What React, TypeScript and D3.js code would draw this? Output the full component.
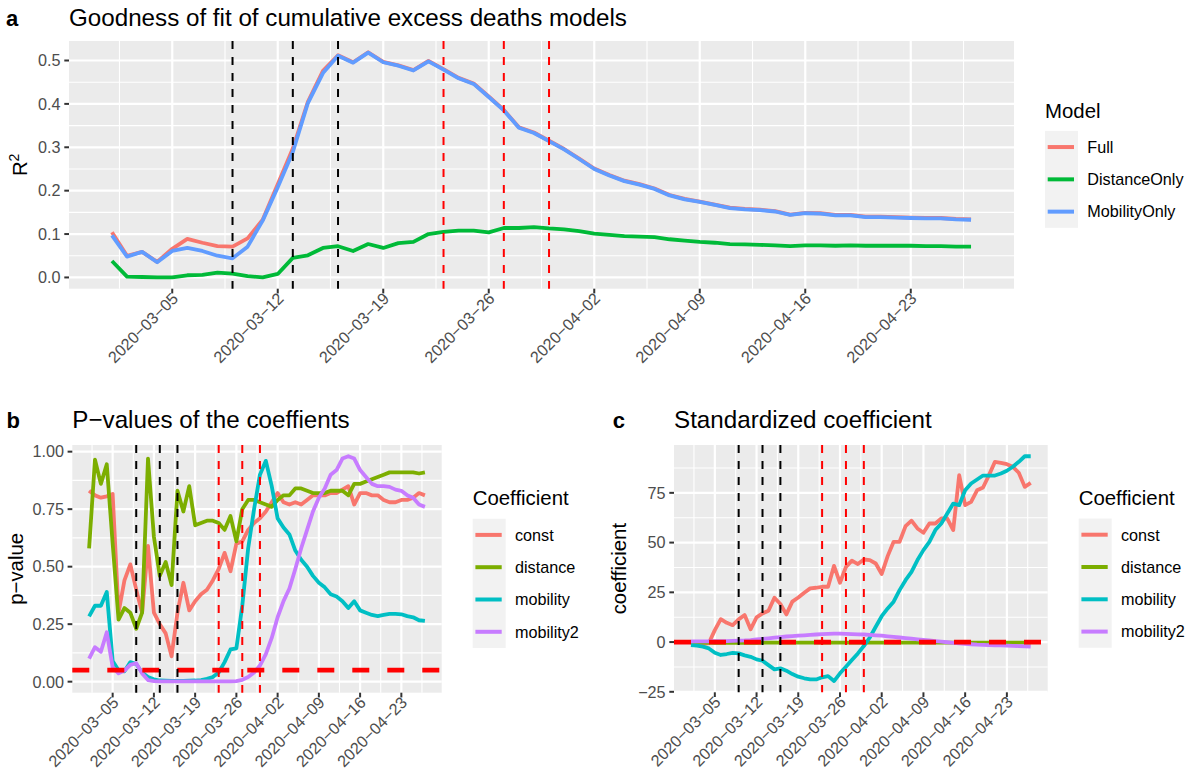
import * as d3 from "d3";
import type { ReactNode } from "react";

const FONT = "'Liberation Sans', Arial, Helvetica, sans-serif";
const MINUS = "\u2212";

// dates
const firstDay = "2020-03-01";
const lastDay = "2020-04-27";
const weekTicks = [
  "2020-03-05", "2020-03-12", "2020-03-19", "2020-03-26",
  "2020-04-02", "2020-04-09", "2020-04-16", "2020-04-23",
];
const blackLines = ["2020-03-09", "2020-03-13", "2020-03-16"];
const redLines = ["2020-03-23", "2020-03-27", "2020-03-30"];

// panel a: R^2 of the models
const r2Full = [
  0.104, 0.05, 0.059, 0.036, 0.066, 0.089, 0.08, 0.072, 0.071, 0.09,
  0.133, 0.215, 0.297, 0.405, 0.476, 0.512, 0.496, 0.519, 0.497, 0.489,
  0.478, 0.499, 0.48, 0.46, 0.447, 0.417, 0.386, 0.346, 0.334, 0.315,
  0.296, 0.274, 0.251, 0.236, 0.223, 0.215, 0.205, 0.19, 0.181, 0.175,
  0.168, 0.161, 0.158, 0.156, 0.153, 0.145, 0.149, 0.148, 0.144, 0.144,
  0.14, 0.14, 0.139, 0.138, 0.137, 0.137, 0.135, 0.134,
];
const r2Distance = [
  0.038, 0.002, 0.001, 0.0, 0.0, 0.005, 0.006, 0.011, 0.009, 0.003,
  0.0, 0.008, 0.045, 0.051, 0.068, 0.072, 0.061, 0.077, 0.068, 0.079,
  0.082, 0.1, 0.105, 0.108, 0.108, 0.104, 0.114, 0.114, 0.116, 0.113,
  0.111, 0.107, 0.101, 0.098, 0.095, 0.094, 0.093, 0.088, 0.085, 0.082,
  0.08, 0.077, 0.076, 0.075, 0.074, 0.072, 0.074, 0.074, 0.073, 0.074,
  0.073, 0.073, 0.073, 0.073, 0.072, 0.072, 0.071, 0.071,
];
const r2Mobility = [
  0.097, 0.048, 0.059, 0.035, 0.061, 0.068, 0.061, 0.05, 0.044, 0.071,
  0.131, 0.208, 0.289, 0.402, 0.471, 0.511, 0.495, 0.518, 0.496, 0.488,
  0.477, 0.498, 0.479, 0.459, 0.446, 0.416, 0.385, 0.345, 0.333, 0.314,
  0.295, 0.273, 0.25, 0.235, 0.222, 0.214, 0.204, 0.189, 0.18, 0.174,
  0.167, 0.16, 0.157, 0.155, 0.152, 0.144, 0.148, 0.147, 0.143, 0.143,
  0.139, 0.139, 0.138, 0.137, 0.136, 0.136, 0.134, 0.133,
];

// panel b: p-values
const pConst = [
  0.83, 0.81, 0.8, 0.806, 0.816, 0.3, 0.44, 0.51, 0.4, 0.3,
  0.59, 0.3, 0.25, 0.21, 0.11, 0.3, 0.43, 0.31, 0.35, 0.38,
  0.4, 0.44, 0.49, 0.56, 0.48, 0.6, 0.61, 0.66, 0.69, 0.71,
  0.74, 0.78, 0.82, 0.78, 0.77, 0.78, 0.77, 0.79, 0.81, 0.81,
  0.81, 0.82, 0.82, 0.835, 0.85, 0.77, 0.82, 0.82, 0.81, 0.81,
  0.79, 0.78, 0.78, 0.79, 0.79, 0.8, 0.82, 0.81,
];
const pDistance = [
  0.58, 0.965, 0.86, 0.945, 0.6, 0.27, 0.32, 0.3, 0.23, 0.3,
  0.97, 0.63, 0.46, 0.52, 0.42, 0.83, 0.74, 0.85, 0.68, 0.69,
  0.7, 0.7, 0.69, 0.66, 0.72, 0.61, 0.75, 0.79, 0.79, 0.78,
  0.77, 0.76, 0.79, 0.81, 0.81, 0.84, 0.84, 0.83, 0.82, 0.82,
  0.82, 0.83, 0.83, 0.83, 0.81, 0.86, 0.86, 0.87, 0.88, 0.89,
  0.9, 0.91, 0.91, 0.91, 0.91, 0.91, 0.905, 0.91,
];
const pMobility = [
  0.284, 0.33, 0.33, 0.39, 0.09, 0.05, 0.045, 0.085, 0.077, 0.04,
  0.02, 0.01, 0.005, 0.004, 0.003, 0.003, 0.003, 0.004, 0.005, 0.007,
  0.012, 0.02, 0.04, 0.085, 0.14, 0.145, 0.33, 0.58, 0.75, 0.9,
  0.96, 0.85, 0.71, 0.67, 0.64, 0.57, 0.53, 0.5, 0.46, 0.43,
  0.41, 0.38, 0.37, 0.35, 0.32, 0.35, 0.31, 0.3, 0.29, 0.285,
  0.29, 0.295, 0.295, 0.293, 0.285, 0.28, 0.267, 0.264,
];
const pMobility2 = [
  0.1, 0.15, 0.13, 0.215, 0.063, 0.036, 0.048, 0.073, 0.08, 0.036,
  0.007, 0.002, 0.001, 0.001, 0.001, 0.001, 0.001, 0.001, 0.001, 0.001,
  0.001, 0.001, 0.001, 0.001, 0.001, 0.002, 0.008, 0.02, 0.04, 0.07,
  0.12, 0.19, 0.28, 0.35, 0.405, 0.49, 0.58, 0.66, 0.74, 0.8,
  0.84, 0.9, 0.92, 0.97, 0.98, 0.97, 0.92, 0.89, 0.86, 0.85,
  0.85, 0.847, 0.835, 0.83, 0.81, 0.8, 0.77, 0.76,
];

// panel c: standardized coefficients
const cConst = [
  -0.5, -0.8, -1.0, -0.5, 6.0, 11.5, 9.7, 8.5, 11.4, 13.6,
  6.4, 12.4, 14.4, 15.7, 22.3, 19.1, 13.9, 20.3, 22.4, 24.8,
  27.0, 27.3, 27.8, 27.8, 38.3, 29.8, 37.8, 40.9, 39.2, 41.5,
  41.2, 39.5, 34.2, 43.2, 50.4, 50.4, 58.3, 61.0, 57.1, 54.9,
  59.6, 59.6, 62.1, 62.1, 56.3, 83.9, 68.8, 70.5, 76.3, 77.7,
  83.9, 90.6, 90.1, 89.4, 88.1, 85.1, 78.0, 80.0,
];
const cDistance = [
  -0.3, -0.3, -0.3, -0.3, -0.4, -0.4, -0.4, -0.4, -0.4, -0.4,
  -0.4, -0.4, -0.3, -0.3, -0.3, -0.3, -0.3, -0.3, -0.3, -0.3,
  -0.3, -0.3, -0.3, -0.3, -0.3, -0.3, -0.3, -0.3, -0.3, -0.3,
  -0.3, -0.3, -0.3, -0.3, -0.3, -0.3, -0.3, -0.3, -0.3, -0.3,
  -0.3, -0.3, -0.3, -0.3, -0.3, -0.3, -0.3, -0.3, -0.3, -0.3,
  -0.3, -0.3, -0.3, -0.3, -0.3, -0.3, -0.3, -0.3,
];
const cMobility = [
  -1.5, -1.8, -2.3, -3.2, -5.4, -6.5, -6.0, -5.4, -5.7, -6.7,
  -7.4, -8.7, -9.4, -11.6, -13.7, -13.2, -14.4, -16.1, -17.4, -18.2,
  -18.8, -18.8, -17.7, -17.1, -19.6, -15.7, -12.4, -9.0, -5.7, -2.0,
  2.3, 7.7, 13.0, 16.9, 20.3, 26.1, 31.1, 35.3, 41.2, 46.2,
  50.4, 56.3, 59.6, 64.6, 69.6, 68.8, 76.3, 79.7, 81.7, 83.7,
  83.7, 83.7, 84.7, 86.1, 88.1, 90.6, 93.4, 93.4,
];
const cMobility2 = [
  0.3, 0.3, 0.3, 0.3, 0.4, 0.4, 0.5, 0.6, 0.7, 0.8,
  1.0, 1.3, 1.6, 1.9, 2.2, 2.5, 2.8, 3.0, 3.2, 3.4,
  3.6, 3.8, 4.0, 4.1, 4.2, 4.2, 4.1, 4.0, 3.9, 3.8,
  3.6, 3.4, 3.2, 2.9, 2.6, 2.3, 2.0, 1.7, 1.4, 1.1,
  0.8, 0.5, 0.2, -0.1, -0.4, -0.7, -0.9, -1.1, -1.3, -1.4,
  -1.5, -1.6, -1.7, -1.8, -1.9, -2.0, -2.1, -2.3,
];

const pThreshold = 0.05;
const zeroLevel = 0;

const modelNames = ["Full", "DistanceOnly", "MobilityOnly"];
const coefNames = ["const", "distance", "mobility", "mobility2"];
const hue3 = ["#F8766D", "#00BA38", "#619CFF"];
const hue4 = ["#F8766D", "#7CAE00", "#00BFC4", "#C77CFF"];

const parse = d3.utcParse("%Y-%m-%d");
const days = d3.utcDay.range(parse(firstDay)!, d3.utcDay.offset(parse(lastDay)!, 1));

interface Series {
  name: string;
  values: number[];
  color: string;
}

interface PanelProps {
  x0: number;
  x1: number;
  y0: number;
  y1: number;
  series: Series[];
  yTicks: number[];
  yFmt: (v: number) => string;
  hline?: number;
  title: string;
  tag: string;
  tagX: number;
  titleY: number;
  ylab: ReactNode;
  ylabX: number;
  legendTitle: string;
}

const tickSize = 16.2;
const KEY_H = 32.3;

function Panel(p: PanelProps) {
  const { x0, x1, y0, y1 } = p;
  const [t0, t1] = d3.extent(days) as [Date, Date];
  const span = +t1 - +t0;
  const x = d3
    .scaleUtc()
    .domain([+t0 - span * 0.05, +t1 + span * 0.05])
    .range([x0, x1]);

  const all = p.series.flatMap((s) => s.values);
  if (p.hline != null) all.push(p.hline);
  const [lo, hi] = d3.extent(all) as [number, number];
  const pad = (hi - lo) * 0.05;
  const y = d3.scaleLinear().domain([lo - pad, hi + pad]).range([y1, y0]);

  const majors = weekTicks.map((d) => parse(d)!);
  const half = 3.5 * 864e5;
  const [dx0, dx1] = x.domain().map(Number);
  const xMinor = [...majors.map((m) => +m - half), +majors[majors.length - 1] + half].filter(
    (v) => v >= dx0 && v <= dx1
  );
  const step = p.yTicks[1] - p.yTicks[0];
  const [dy0, dy1] = y.domain();
  const yMinor = [...p.yTicks.map((t) => t - step / 2), p.yTicks[p.yTicks.length - 1] + step / 2].filter(
    (v) => v >= dy0 && v <= dy1
  );

  const line = d3
    .line<number>()
    .x((_, i) => x(days[i]))
    .y((v) => y(v));

  const lx = x1 + 31;
  const boxH = p.series.length * KEY_H;
  const boxTop = (y0 + y1) / 2 - boxH / 2 + 14.5;

  return (
    <g>
      <text x={p.tagX} y={p.titleY} fontSize={22} fontWeight="bold">
        {p.tag}
      </text>
      <text x={x0} y={p.titleY} fontSize={24.2}>
        {p.title}
      </text>
      <rect x={x0} y={y0} width={x1 - x0} height={y1 - y0} fill="#EBEBEB" />
      {xMinor.map((v) => (
        <line key={`xm${v}`} x1={x(v)} x2={x(v)} y1={y0} y2={y1} stroke="#fff" strokeWidth={1.1} />
      ))}
      {yMinor.map((v) => (
        <line key={`ym${v}`} x1={x0} x2={x1} y1={y(v)} y2={y(v)} stroke="#fff" strokeWidth={1.1} />
      ))}
      {majors.map((m) => (
        <line key={`xg${+m}`} x1={x(m)} x2={x(m)} y1={y0} y2={y1} stroke="#fff" strokeWidth={2.2} />
      ))}
      {p.yTicks.map((v) => (
        <line key={`yg${v}`} x1={x0} x2={x1} y1={y(v)} y2={y(v)} stroke="#fff" strokeWidth={2.2} />
      ))}

      {p.series.map((s) => (
        <path
          key={s.name}
          d={line(s.values) ?? ""}
          fill="none"
          stroke={s.color}
          strokeWidth={3.8}
          strokeLinejoin="round"
        />
      ))}

      {p.hline != null && (
        <line
          x1={x0}
          x2={x1}
          y1={y(p.hline)}
          y2={y(p.hline)}
          stroke="#FF0000"
          strokeWidth={4.8}
          strokeDasharray="17 18"
        />
      )}
      {blackLines.map((d) => (
        <line key={d} x1={x(parse(d)!)} x2={x(parse(d)!)} y1={y0} y2={y1} stroke="#000" strokeWidth={2} strokeDasharray="8 8" />
      ))}
      {redLines.map((d) => (
        <line key={d} x1={x(parse(d)!)} x2={x(parse(d)!)} y1={y0} y2={y1} stroke="#FF0000" strokeWidth={2} strokeDasharray="8 8" />
      ))}

      {/* y axis */}
      {p.yTicks.map((v) => (
        <g key={`yt${v}`}>
          <line x1={x0 - 4.7} x2={x0} y1={y(v)} y2={y(v)} stroke="#333" strokeWidth={2} />
          <text x={x0 - 8.4} y={y(v)} dy="0.36em" textAnchor="end" fontSize={tickSize} fill="#4D4D4D">
            {p.yFmt(v)}
          </text>
        </g>
      ))}
      {/* x axis, labels turned 45 degrees */}
      {majors.map((m, i) => (
        <g key={`xt${+m}`}>
          <line x1={x(m)} x2={x(m)} y1={y1} y2={y1 + 4.7} stroke="#333" strokeWidth={2} />
          <text
            transform={`translate(${x(m)},${y1 + 4})rotate(-45)`}
            dy="0.6em"
            textAnchor="end"
            fontSize={tickSize}
            fill="#4D4D4D"
          >
            {weekTicks[i].replace(/-/g, MINUS)}
          </text>
        </g>
      ))}
      <text transform={`translate(${p.ylabX},${(y0 + y1) / 2}) rotate(-90)`} textAnchor="middle" fontSize={20.4}>
        {p.ylab}
      </text>

      {/* legend */}
      <text x={lx} y={boxTop - 13.3} fontSize={20.4}>
        {p.legendTitle}
      </text>
      <rect x={lx} y={boxTop} width={33} height={boxH} fill="#F2F2F2" />
      {p.series.map((s, i) => {
        const cy = boxTop + KEY_H * (i + 0.5);
        return (
          <g key={`lg${s.name}`}>
            <line x1={lx + 2.7} x2={lx + 29} y1={cy} y2={cy} stroke={s.color} strokeWidth={4} />
            <text x={lx + 42.3} y={cy} dy="0.36em" fontSize={tickSize} fill="#000">
              {s.name}
            </text>
          </g>
        );
      })}
    </g>
  );
}

const minusFmt = (f: (n: number) => string) => (v: number) =>
  v < 0 ? MINUS + f(-v) : f(v);

export default function App() {
  const seriesA: Series[] = [r2Full, r2Distance, r2Mobility].map((values, i) => ({
    name: modelNames[i],
    values,
    color: hue3[i],
  }));
  const seriesB: Series[] = [pConst, pDistance, pMobility, pMobility2].map((values, i) => ({
    name: coefNames[i],
    values,
    color: hue4[i],
  }));
  const seriesC: Series[] = [cConst, cDistance, cMobility, cMobility2].map((values, i) => ({
    name: coefNames[i],
    values,
    color: hue4[i],
  }));

  return (
    <div style={{ position: "absolute", left: 0, top: 0 }}>
      <svg width={1195} height={772} style={{ display: "block", fontFamily: FONT, background: "#fff" }}>
        <Panel
          x0={69}
          x1={1014}
          y0={41}
          y1={288.7}
          series={seriesA}
          yTicks={[0, 0.1, 0.2, 0.3, 0.4, 0.5]}
          yFmt={d3.format(".1f")}
          title="Goodness of fit of cumulative excess deaths models"
          tag="a"
          tagX={6}
          titleY={26}
          ylab={
            <>
              R
              <tspan dy={-8} fontSize={14}>
                2
              </tspan>
            </>
          }
          ylabX={26.7}
          legendTitle="Model"
        />
        <Panel
          x0={72.3}
          x1={441.7}
          y0={445}
          y1={692.7}
          series={seriesB}
          yTicks={[0, 0.25, 0.5, 0.75, 1]}
          yFmt={d3.format(".2f")}
          hline={pThreshold}
          title={`P${MINUS}values of the coeffients`}
          tag="b"
          tagX={6.5}
          titleY={428.3}
          ylab={`p${MINUS}value`}
          ylabX={22.7}
          legendTitle="Coefficient"
        />
        <Panel
          x0={674}
          x1={1047.7}
          y0={445}
          y1={692.3}
          series={seriesC}
          yTicks={[-25, 0, 25, 50, 75]}
          yFmt={minusFmt(d3.format("d"))}
          hline={zeroLevel}
          title="Standardized coefficient"
          tag="c"
          tagX={612.7}
          titleY={428.3}
          ylab="coefficient"
          ylabX={626}
          legendTitle="Coefficient"
        />
      </svg>
    </div>
  );
}
